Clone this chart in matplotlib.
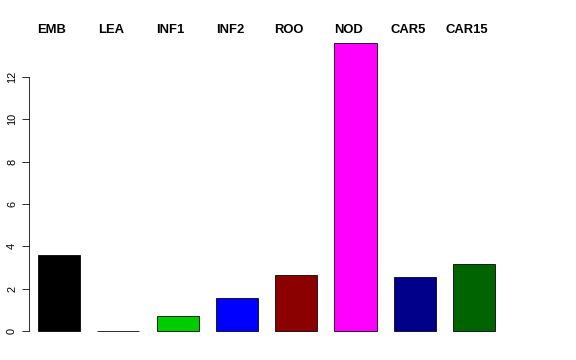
import matplotlib
matplotlib.use('Agg')
import matplotlib.pyplot as plt

# Data
labels = ['EMB', 'LEA', 'INF1', 'INF2', 'ROO', 'NOD', 'CAR5', 'CAR15']
values = [3.59, 0.02, 0.71, 1.58, 2.64, 13.6, 2.55, 3.16]
colors = ['#000000', '#FFFFFF', '#00CD00', '#0000FF', '#8B0000', '#FF00FF', '#00008B', '#006400']
yticks = [0, 2, 4, 6, 8, 10, 12]

plt.rcParams['font.family'] = ['Liberation Sans', 'DejaVu Sans']

W, H = 576, 360
fig = plt.figure(figsize=(W / 72, H / 72), dpi=72)

# axes placed in pixel terms: left 29px, bottom (y=0) at 331px
px_per_y = 21.17
ymax = 15
ax_left, ax_right = 29, 540
ax_bottom = 331
ax_top = ax_bottom - ymax * px_per_y
ax = fig.add_axes([ax_left / W, 1 - ax_bottom / H, (ax_right - ax_left) / W, (ax_bottom - ax_top) / H])

px_per_x = 59.3
x0 = 59  # pixel center of first bar
ax.set_xlim(-(x0 - ax_left) / px_per_x, (ax_right - x0) / px_per_x)
ax.set_ylim(0, ymax)

xs = list(range(len(labels)))
bars = ax.bar(xs, values, width=0.71, color=colors, edgecolor='black', linewidth=0.8)
for b in bars:
    b.set_clip_on(False)

for s in ['top', 'right', 'bottom']:
    ax.spines[s].set_visible(False)
ax.spines['left'].set_bounds(0, 12)
ax.spines['left'].set_linewidth(0.8)
ax.set_xticks([])
ax.set_yticks(yticks)
ax.set_yticklabels([str(t) for t in yticks], rotation=90, va='center', fontsize=11)
ax.tick_params(axis='y', length=7, width=0.8, pad=5)

# category labels along the top, slightly left of each bar
for x, lab in zip(xs, labels):
    ax.text(x - 7 / px_per_x, ymax - (30 - ax_top) / px_per_y, lab,
            ha='center', va='center', fontsize=13, fontweight='bold', clip_on=False)

fig.savefig('out.png', dpi=72)
